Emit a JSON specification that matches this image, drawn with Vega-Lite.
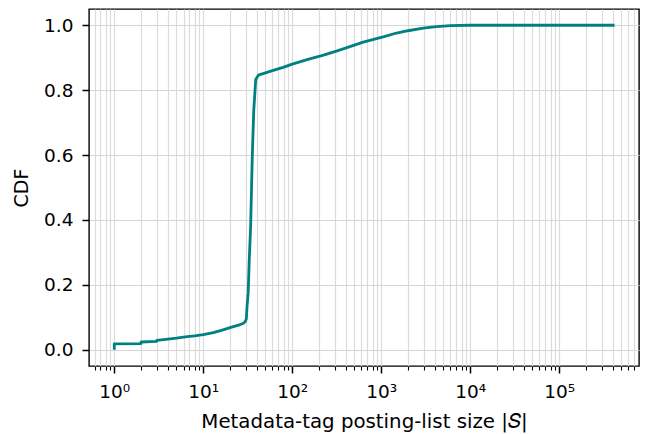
{
  "$schema": "https://vega.github.io/schema/vega-lite/v6.json",
  "width": 550,
  "height": 357,
  "autosize": "none",
  "padding": {"left": 89, "top": 9, "right": 13, "bottom": 68},
  "background": "white",
  "config": {
    "view": {"stroke": "#000000", "strokeWidth": 1.4},
    "font": "DejaVu Sans"
  },
  "data": {
    "values": [
      {"i": 0, "size": 1, "cdf": 0},
      {"i": 1, "size": 1, "cdf": 0.018},
      {"i": 2, "size": 2, "cdf": 0.019},
      {"i": 3, "size": 2, "cdf": 0.024},
      {"i": 4, "size": 3, "cdf": 0.026},
      {"i": 5, "size": 3, "cdf": 0.029},
      {"i": 6, "size": 4, "cdf": 0.033},
      {"i": 7, "size": 5, "cdf": 0.036},
      {"i": 8, "size": 6, "cdf": 0.039},
      {"i": 9, "size": 7, "cdf": 0.041},
      {"i": 10, "size": 8, "cdf": 0.043},
      {"i": 11, "size": 10, "cdf": 0.047},
      {"i": 12, "size": 13, "cdf": 0.053},
      {"i": 13, "size": 16, "cdf": 0.06},
      {"i": 14, "size": 20, "cdf": 0.068},
      {"i": 15, "size": 25, "cdf": 0.076},
      {"i": 16, "size": 28, "cdf": 0.081},
      {"i": 17, "size": 29.5, "cdf": 0.086},
      {"i": 18, "size": 30.5, "cdf": 0.095},
      {"i": 19, "size": 31, "cdf": 0.13},
      {"i": 20, "size": 32, "cdf": 0.176},
      {"i": 21, "size": 32.9, "cdf": 0.277},
      {"i": 22, "size": 33.5, "cdf": 0.33},
      {"i": 23, "size": 34.1, "cdf": 0.38},
      {"i": 24, "size": 35.5, "cdf": 0.586},
      {"i": 25, "size": 36, "cdf": 0.64},
      {"i": 26, "size": 37, "cdf": 0.74},
      {"i": 27, "size": 38.9, "cdf": 0.833},
      {"i": 28, "size": 41.6, "cdf": 0.846},
      {"i": 29, "size": 60, "cdf": 0.86},
      {"i": 30, "size": 79, "cdf": 0.87},
      {"i": 31, "size": 100, "cdf": 0.88},
      {"i": 32, "size": 150, "cdf": 0.895},
      {"i": 33, "size": 220, "cdf": 0.907},
      {"i": 34, "size": 320, "cdf": 0.921},
      {"i": 35, "size": 445, "cdf": 0.934},
      {"i": 36, "size": 628, "cdf": 0.948},
      {"i": 37, "size": 1052, "cdf": 0.964},
      {"i": 38, "size": 1490, "cdf": 0.976},
      {"i": 39, "size": 2000, "cdf": 0.983},
      {"i": 40, "size": 2970, "cdf": 0.991},
      {"i": 41, "size": 4200, "cdf": 0.996},
      {"i": 42, "size": 6000, "cdf": 0.999},
      {"i": 43, "size": 10000, "cdf": 1.0},
      {"i": 44, "size": 420000, "cdf": 1.0}
    ]
  },
  "mark": {"type": "line", "color": "#008080", "strokeWidth": 2.8, "strokeCap": "butt", "strokeJoin": "round", "clip": true},
  "encoding": {
    "order": {"field": "i", "type": "quantitative"},
    "x": {
      "field": "size",
      "type": "quantitative",
      "scale": {"type": "log", "domain": [0.52, 790000], "nice": false},
      "axis": {
        "title": "Metadata-tag posting-list size |𝑆|",
        "titleFont": "DejaVu Sans",
        "titleFontSize": 19.8,
        "titleFontWeight": "normal",
        "titleColor": "#000000",
        "titleBaseline": "alphabetic",
        "titleY": 61,
        "domain": false,
        "values": [0.6, 0.7, 0.8, 0.9, 1, 2, 3, 4, 5, 6, 7, 8, 9, 10, 20, 30, 40, 50, 60, 70, 80, 90, 100, 200, 300, 400, 500, 600, 700, 800, 900, 1000, 2000, 3000, 4000, 5000, 6000, 7000, 8000, 9000, 10000, 20000, 30000, 40000, 50000, 60000, 70000, 80000, 90000, 100000, 200000, 300000, 400000, 500000, 600000, 700000],
        "labelExpr": "indexof([1,10,100,1000,10000,100000], datum.value) >= 0 ? '10' + ['⁰','¹','²','³','⁴','⁵'][round(log(datum.value)/LN10)] : ''",
        "labelFont": "DejaVu Sans",
        "labelFontSize": 18.5,
        "labelColor": "#000000",
        "labelBaseline": "alphabetic",
        "labelPadding": 24,
        "labelOverlap": false,
        "labelFlush": false,
        "tickColor": "#000000",
        "tickSize": {"condition": {"test": "indexof([1,10,100,1000,10000,100000], datum.value) >= 0", "value": 7}, "value": 4},
        "tickWidth": {"condition": {"test": "indexof([1,10,100,1000,10000,100000], datum.value) >= 0", "value": 1.5}, "value": 1.1},
        "grid": true,
        "gridColor": "#dcdcdc",
        "gridWidth": 1.2
      }
    },
    "y": {
      "field": "cdf",
      "type": "quantitative",
      "scale": {"domain": [-0.05, 1.05], "nice": false, "zero": false},
      "axis": {
        "title": "CDF",
        "titleFont": "DejaVu Sans",
        "titleFontSize": 19,
        "titleFontWeight": "normal",
        "titleColor": "#000000",
        "titleAngle": -90,
        "titleAlign": "center",
        "titleBaseline": "middle",
        "titleX": -68,
        "titleY": 178.5,
        "domain": false,
        "values": [0, 0.2, 0.4, 0.6, 0.8, 1.0],
        "format": ".1f",
        "labelFont": "DejaVu Sans",
        "labelFontSize": 18.5,
        "labelColor": "#000000",
        "labelPadding": 9,
        "tickColor": "#000000",
        "tickSize": 7,
        "tickWidth": 1.5,
        "grid": true,
        "gridColor": "#d6d6d6",
        "gridWidth": 1.2
      }
    }
  }
}
